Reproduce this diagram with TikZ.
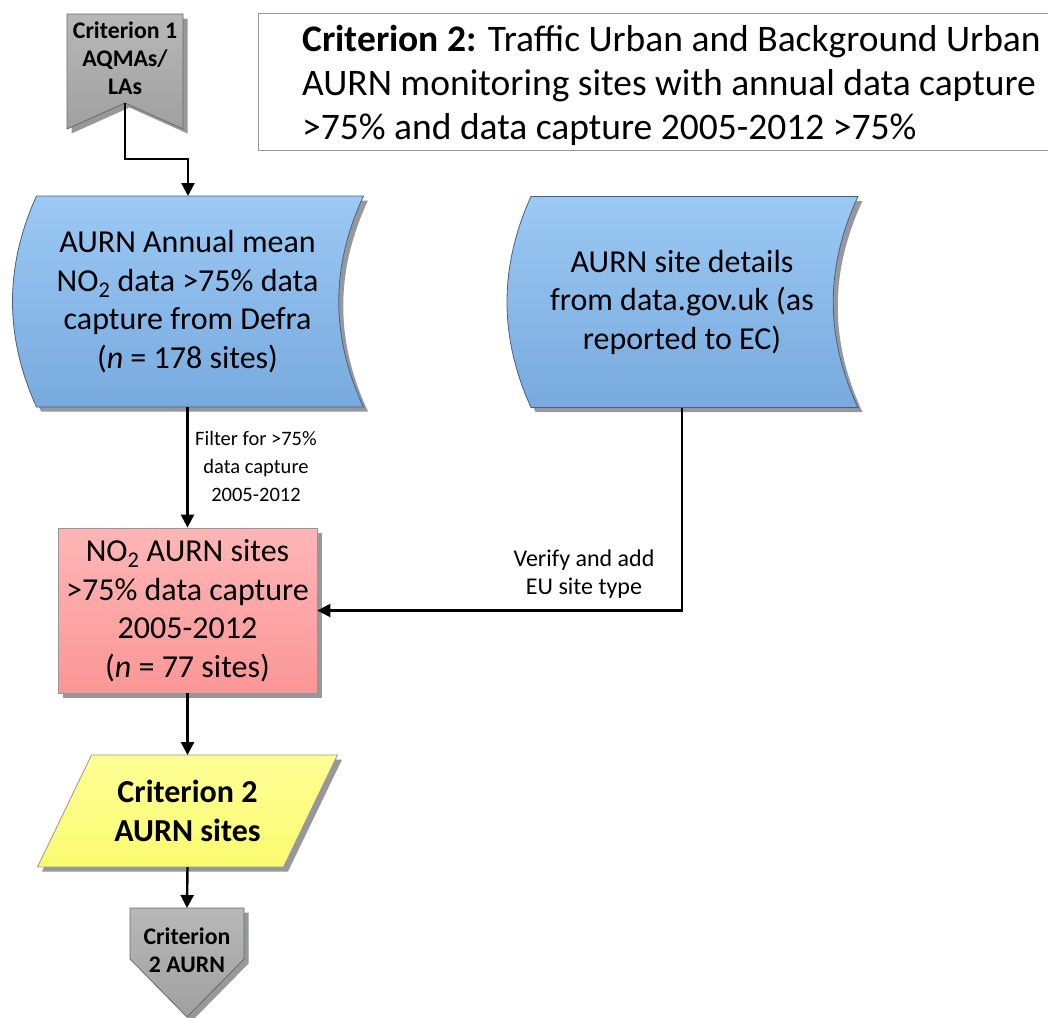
\documentclass[tikz,border=0pt]{standalone}
\usepackage{fontspec}
\setmainfont{Carlito}
\usetikzlibrary{arrows.meta,calc,backgrounds,shadows}

\definecolor{bluetop}{RGB}{156,201,244}
\definecolor{bluebot}{RGB}{120,170,222}
\definecolor{blueedge}{RGB}{72,96,128}
\definecolor{pinktop}{RGB}{255,182,182}
\definecolor{pinkbot}{RGB}{251,150,150}
\definecolor{yeltop}{RGB}{255,255,150}
\definecolor{yelbot}{RGB}{250,250,112}
\definecolor{greytop}{RGB}{184,184,184}
\definecolor{greybot}{RGB}{160,160,160}
\definecolor{edgegrey}{RGB}{105,105,105}
\definecolor{shadowgrey}{RGB}{150,152,156}
\definecolor{framegrey}{RGB}{150,150,150}

\newcommand\fBody{\fontsize{32}{38.5}\selectfont}
\newcommand\fTitle{\fontsize{37.5}{44}\selectfont}
\newcommand\fFilter{\fontsize{20.5}{28}\selectfont}
\newcommand\fVerify{\fontsize{24}{28.5}\selectfont}
\newcommand\fTag{\fontsize{23.8}{28}\selectfont\bfseries}

% outlines of the custom flowchart symbols, drawn about the local origin
\newcommand\storedshape[1]{\path[#1] (-151,-105.5) -- (176,-105.5)
  .. controls (143,-35) and (143,35) .. (176,105.5) -- (-151,105.5)
  .. controls (-183,35) and (-183,-35) .. (-151,-105.5) -- cycle;}
\newcommand\bannershape[1]{\path[#1] (-58,-44) -- (58,-44) -- (58,71)
  -- (0,45) -- (-58,71) -- cycle;}
\newcommand\pentashape[1]{\path[#1] (-57,-42) -- (57,-42) -- (57,9)
  -- (0,67) -- (-57,9) -- cycle;}
\newcommand\slantshape[1]{\path[#1] (-96,-56) -- (150,-56) -- (96,56)
  -- (-150,56) -- cycle;}

\begin{document}
\begin{tikzpicture}[x=1pt,y=-1pt,
  txt/.style={align=center,inner sep=0pt},
  conn/.style={line width=2.4pt,-{Triangle[length=13pt,width=13pt]}},
  blueshade/.style={top color=bluetop,bottom color=bluebot,draw=blueedge,line width=0.8pt},
  greyshade/.style={top color=greytop,bottom color=greybot,draw=edgegrey,line width=0.8pt},
  yelshade/.style={top color=yeltop,bottom color=yelbot,draw=framegrey,line width=0.8pt},
  shade/.style={fill=shadowgrey,shift={(4.5,4.5)}},
  pinkbox/.style={rectangle,top color=pinktop,bottom color=pinkbot,draw=framegrey,
    line width=0.8pt,minimum width=259pt,minimum height=165pt,
    drop shadow={shadow xshift=4.5pt,shadow yshift=-4.5pt,fill=shadowgrey,opacity=1}},
  titleframe/.style={rectangle,draw=framegrey,line width=0.9pt,fill=white}]

\useasboundingbox (0,0) rectangle (1048,1017);

% heading box
\node[titleframe,anchor=north west,minimum width=802pt,minimum height=137pt]
  (titlebox) at (258,13) {};
\node[txt,align=left,anchor=west,font=\fTitle] (title) at (302,85)
  {\textbf{Criterion 2:} Traffic Urban and Background Urban\\
   AURN monitoring sites with annual data capture\\
   >75\% and data capture 2005-2012 >75\%};

% text of the symbols
\node[txt,font=\fTag] (crit1) at (125,58) {Criterion 1\\AQMAs/\\LAs};
\node[txt,font=\fBody] (defra) at (187.5,301.5)
  {AURN Annual mean\\NO\textsubscript{2} data >75\% data\\capture from Defra\\(\textit{n} = 178 sites)};
\node[txt,font=\fBody] (details) at (682,302)
  {AURN site details\\from data.gov.uk (as\\reported to EC)};
\node[pinkbox,txt,font=\fBody] (sites) at (187.5,610.5)
  {NO\textsubscript{2} AURN sites\\>75\% data capture\\2005-2012\\(\textit{n} = 77 sites)};
\node[txt,font=\fBody\bfseries] (crit2sites) at (187.5,811) {Criterion 2\\AURN sites};
\node[txt,font=\fTag] (crit2) at (187,950) {Criterion\\2 AURN};

% symbol outlines behind the text
\begin{scope}[on background layer]
  \fill[white] (0,0) rectangle (1048,1017);
  \begin{scope}[shift={(crit1)}]
    \bannershape{shade}
    \bannershape{greyshade}
    \coordinate (crit1-tip) at (0,45);
  \end{scope}
  \begin{scope}[shift={(defra)}]
    \storedshape{shade}
    \storedshape{blueshade}
    \coordinate (defra-top) at (0.5,-105.5);
    \coordinate (defra-bottom) at (0,105.5);
  \end{scope}
  \begin{scope}[shift={(details)}]
    \storedshape{shade}
    \storedshape{blueshade}
    \coordinate (details-bottom) at (0,105.5);
  \end{scope}
  \begin{scope}[shift={(crit2sites)}]
    \slantshape{shade}
    \slantshape{yelshade}
    \coordinate (crit2sites-top) at (0,-56);
    \coordinate (crit2sites-bottom) at (0,56);
  \end{scope}
  \begin{scope}[shift={(crit2)}]
    \pentashape{shade}
    \pentashape{greyshade}
    \coordinate (crit2-top) at (0,-42);
  \end{scope}
\end{scope}

% connectors
\draw[conn] (crit1-tip) -- ++(0,56) -| (defra-top);
\draw[conn] (defra-bottom) -- (defra-bottom |- sites.north);
\draw[conn] (details-bottom) |- (sites.east);
\draw[conn] (sites.south) -- (crit2sites-top);
\draw[conn] (crit2sites-bottom) -- (crit2-top);

% connector labels
\node[txt,font=\fFilter] (filterlbl) at (256,466)
  {Filter for >75\%\\data capture\\2005-2012};
\node[txt,font=\fVerify] (verifylbl) at (584,574)
  {Verify and add\\EU site type};
\end{tikzpicture}
\end{document}
